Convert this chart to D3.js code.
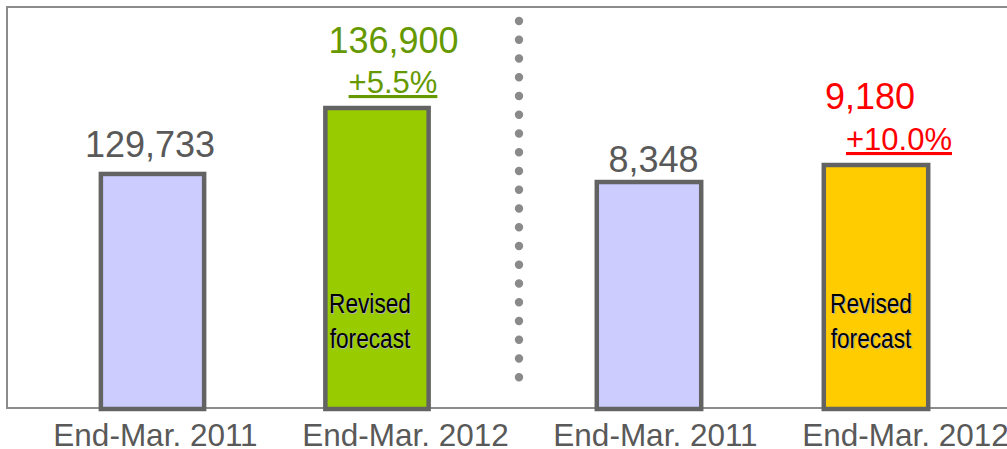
<!DOCTYPE html>
<html>
<head>
<meta charset="utf-8">
<script src="https://cdn.jsdelivr.net/npm/d3@7"></script>
<style>
  html, body { margin: 0; padding: 0; background: #fff; }
  svg { display: block; font-family: "Liberation Sans", Arial, sans-serif; }
</style>
</head>
<body>
<svg id="chart" width="1007" height="449"></svg>
<script>
// Two side-by-side panels, each with its own value scale
const categories = ["End-Mar. 2011", "End-Mar. 2012"];
const leftValues = [129733, 136900];
const rightValues = [8348, 9180];
const leftChange = "+5.5%";
const rightChange = "+10.0%";
const axisLabels = ["End-Mar. 2011", "End-Mar. 2012", "End-Mar. 2011", "End-Mar. 2012"];
const forecastNote = ["Revised", "forecast"];

const svg = d3.select("#chart");
const W = 1007, H = 449;
const frameLeft = 7, frameTop = 7, baseY = 408, dividerX = 519;

// frame (open on the right side, which runs off the canvas)
svg.append("rect")
  .attr("x", frameLeft).attr("y", frameTop)
  .attr("width", W + 20).attr("height", baseY - frameTop)
  .attr("fill", "#fff").attr("stroke", "#8c8c8c").attr("stroke-width", 2);

// scales for each panel
const xLeft = d3.scaleBand().domain(categories).range([40.25, 489.25])
  .paddingInner(0.54).paddingOuter(0.27);
const xRight = d3.scaleBand().domain(categories).range([535.5, 989.5])
  .paddingInner(0.54).paddingOuter(0.27);
const yLeft = d3.scaleLinear().domain([104300, 136900]).range([baseY, 108]);
const yRight = d3.scaleLinear().domain([-2700, 9180]).range([baseY, 165]);

const fills = { left: ["#ccccff", "#99cc00"], right: ["#ccccff", "#ffcc00"] };

function drawBars(values, x, y, colors) {
  svg.append("g").selectAll("rect")
    .data(values)
    .join("rect")
    .attr("x", (d, i) => x(categories[i]))
    .attr("y", d => y(d))
    .attr("width", x.bandwidth())
    .attr("height", d => baseY + 1 - y(d))
    .attr("fill", (d, i) => colors[i])
    .attr("stroke", "#636363")
    .attr("stroke-width", 4.5);
}
drawBars(leftValues, xLeft, yLeft, fills.left);
drawBars(rightValues, xRight, yRight, fills.right);

// dotted divider between panels
svg.append("line")
  .attr("x1", dividerX).attr("x2", dividerX)
  .attr("y1", 21).attr("y2", 396)
  .attr("stroke", "#8a8a8a").attr("stroke-width", 8.4)
  .attr("stroke-linecap", "round")
  .attr("stroke-dasharray", "0 18.75");

const fmt = d3.format(",");

// value labels above bars
function valueLabel(v, x, y, cat, dx, dy, color) {
  svg.append("text")
    .attr("x", x(cat) + x.bandwidth() / 2 + dx)
    .attr("y", y(v) - dy)
    .attr("text-anchor", "middle")
    .attr("font-size", 36)
    .attr("fill", color)
    .text(fmt(v));
}
function changeLabel(txt, v, x, y, cat, dx, dy, color) {
  svg.append("text")
    .attr("x", x(cat) + x.bandwidth() / 2 + dx)
    .attr("y", y(v) - dy)
    .attr("text-anchor", "middle")
    .attr("font-size", 31)
    .attr("fill", color)
    .attr("text-decoration", "underline")
    .text(txt);
}

valueLabel(leftValues[0], xLeft, yLeft, categories[0], -2.5, 17, "#595959");
valueLabel(leftValues[1], xLeft, yLeft, categories[1], 16.5, 55, "#669900");
changeLabel(leftChange, leftValues[1], xLeft, yLeft, categories[1], 16, 15, "#669900");

valueLabel(rightValues[0], xRight, yRight, categories[0], 4.5, 10, "#595959");
valueLabel(rightValues[1], xRight, yRight, categories[1], -6, 56, "#ff0000");
changeLabel(rightChange, rightValues[1], xRight, yRight, categories[1], 23, 15, "#ff0000");

// note inside forecast bars
function forecastText(x, cat, dx) {
  const cx = x(cat) + x.bandwidth() / 2 + dx;
  const g = svg.append("g");
  [[1, 1, "#b0b0b0"], [0, 0, "#000"]].forEach(([ox, oy, col]) => {
    forecastNote.forEach((line, j) => {
      g.append("text")
        .attr("transform", `translate(${cx + ox},${313 + j * 35 + oy}) scale(0.84,1)`)
        .attr("text-anchor", "middle")
        .attr("font-size", 27)
        .attr("fill", col)
        .text(line);
    });
  });
}
forecastText(xLeft, categories[1], -7);
forecastText(xRight, categories[1], -5);

// category axis labels, evenly spaced across the canvas
const xAxisPos = d3.scalePoint().domain(d3.range(axisLabels.length)).range([155.5, 905.5]);
svg.append("g").selectAll("text")
  .data(axisLabels)
  .join("text")
  .attr("x", (d, i) => xAxisPos(i))
  .attr("y", 446)
  .attr("text-anchor", "middle")
  .attr("font-size", 31.5)
  .attr("fill", "#595959")
  .text(d => d);
</script>
</body>
</html>
